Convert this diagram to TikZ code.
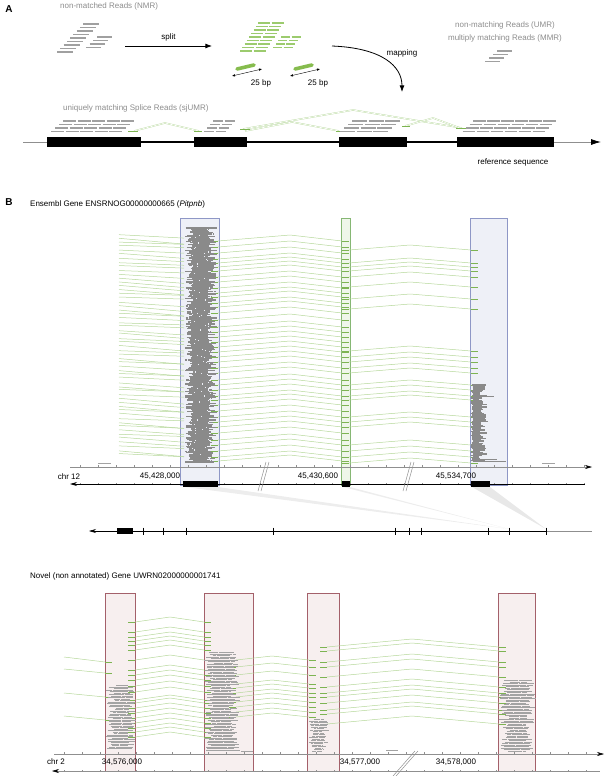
\documentclass[tikz,border=0pt]{standalone}
\usepackage{fontspec}
\setmainfont{Liberation Sans}
\usepackage{tikz}
\usetikzlibrary{positioning, arrows.meta}
\definecolor{readgrey}{HTML}{A0A0A0}
\definecolor{txtgrey}{HTML}{8C8C8C}
\definecolor{readgreen}{HTML}{9CCB6E}
\definecolor{pillgreen}{HTML}{86BC4E}
\definecolor{junc}{HTML}{B5D79A}
\definecolor{juncdark}{HTML}{7DB452}
\definecolor{pilegrey}{HTML}{8A8A8A}
\definecolor{pilelightgrey}{HTML}{A3A3A3}
\definecolor{bluefill}{HTML}{EEF0F7}
\definecolor{blueedge}{HTML}{8E97C6}
\definecolor{greenfill}{HTML}{EFF6EA}
\definecolor{greenedge}{HTML}{86B774}
\definecolor{pinkfill}{HTML}{F7EFEF}
\definecolor{pinkedge}{HTML}{A4606A}
\definecolor{axgrey}{HTML}{8F8F8F}
\tikzset{
  >=Latex, % arrow heads
  lbl/.style={font=\fontsize{8}{9.6}\selectfont, inner sep=0pt},
  greytxt/.style={lbl, text=txtgrey},
  panel/.style={font=\fontsize{10}{12}\selectfont\bfseries, inner sep=0pt},
  read/.style={draw=readgrey, line width=1.3pt},
  splitread/.style={draw=readgreen, line width=1.3pt},
  pill/.style={draw=pillgreen, line width=3.6pt, line cap=round},
  junction/.style={draw=junc, line width=0.5pt},
  juncpair/.style={draw=junc, double=white, double distance=0.7pt, line width=0.35pt},
  juncend/.style={draw=juncdark, line width=1pt},
  pile/.style={draw=pilegrey, line width=1.25pt},
  pilelight/.style={draw=pilelightgrey, line width=0.9pt},
  exon/.style={fill=black, draw=none},
  axisline/.style={draw=axgrey, line width=0.5pt},
  col blue/.style={fill=bluefill, draw=blueedge, line width=0.6pt},
  col green/.style={fill=greenfill, draw=greenedge, line width=0.6pt},
  col pink/.style={fill=pinkfill, draw=pinkedge, line width=0.6pt}
}
% stacks of short reads: [style] x y rows cols rowshift length
\newcommand{\readgrid}[7][read]{%
  \foreach \r in {1,...,#4}{%
    \foreach \c in {1,...,#5}{%
      \draw[#1] ({#2-(\r-1)*#6+(\c-1)*(#7+1.5)},{#3+(\r-1)*3.5}) -- ++(#7,0);
    }}}
% pile of mapped reads: [style] cx y0 rows step halfwidth extra
\newcommand{\pileup}[7][pile]{%
  \foreach \i in {1,...,#4}{%
    \pgfmathsetmacro\pyy{#3+#5*\i}%
    \pgfmathsetmacro\pcx{#2+3*rnd-1.5}%
    \pgfmathsetmacro\pwd{#6+#7*rnd}%
    \pgfmathsetmacro\pmid{\pcx+\pwd*(2*rnd-1)*0.7}%
    \draw[#1] ({\pcx-\pwd},\pyy) -- ({\pmid-0.4},\pyy) ({\pmid+0.4},\pyy) -- ({\pcx+\pwd},\pyy);
  }}
% spliced read: x1 x2 xpeak y rise
\newcommand{\hump}[5]{%
  \draw[junction] (#1,#4) -- (#3,{#4-#5}) -- (#2,#4);
  \draw[juncend] ({#1-7},#4) -- (#1,#4) (#2,#4) -- ({#2+7},#4);
}

\begin{document}
\begin{tikzpicture}[x=1pt, y=-1pt]
\useasboundingbox (0,0) rectangle (606,776);
\pgfmathsetseed{17}

%%% panel A
\node[panel] (pa) at (9,9) {A};
\node[greytxt, anchor=west] (nmr) at (60,6) {non-matched Reads (NMR)};
\node[greytxt] (umr) at (505,25) {non-matching Reads (UMR)};
\node[greytxt, below=6pt of umr] (mmr) {multiply matching Reads (MMR)};
\node[greytxt, anchor=west] (sjumr) at (63,108) {uniquely matching Splice Reads (sjUMR)};

% read stacks
\readgrid{83}{24}{9}{1}{3.25}{16}
\readgrid{97}{37}{4}{1}{3.7}{15}
\readgrid[splitread]{258}{23}{9}{2}{2.25}{12}
\readgrid[splitread]{281}{37}{4}{2}{2.6}{9}
\readgrid{497}{51}{4}{1}{4}{15}

% split and mapping arrows
\coordinate (nmr out) at (125,46);
\coordinate (split in) at (212,46);
\draw[->, line width=0.8pt] (nmr out) -- node[lbl, above=4pt] {split} (split in);
\coordinate (map out) at (332,46);
\coordinate (map in) at (402,92);
\draw[->, line width=0.8pt] (map out) .. controls (382,48) and (402,66) .. (map in);
\node[lbl] (maplbl) at (402,53) {mapping};

% 25 bp halves
\draw[pill] (237,69) -- (254,65);
\draw[pill] (295,69) -- (312,65);
\coordinate (bp1a) at (232,76);
\coordinate (bp1b) at (262,69);
\coordinate (bp2a) at (290,76);
\coordinate (bp2b) at (320,69);
\draw[{Latex[length=3pt,width=2.5pt]}-{Latex[length=3pt,width=2.5pt]}, line width=0.4pt] (bp1a) -- (bp1b);
\draw[{Latex[length=3pt,width=2.5pt]}-{Latex[length=3pt,width=2.5pt]}, line width=0.4pt] (bp2a) -- (bp2b);
\node[lbl] (bp1) at (261,83) {25 bp};
\node[lbl] (bp2) at (318,83) {25 bp};

% reference sequence
\draw[draw=axgrey, line width=0.8pt] (23,142) -- (47,142);
\draw[line width=1.8pt] (47,142) -- (554,142);
\draw[draw=axgrey, line width=0.8pt, -{Latex[length=10pt,width=6pt,color=black]}] (554,142) -- (601,142);
\fill[exon] (47,137) rectangle (141,147);
\fill[exon] (194,137) rectangle (247,147);
\fill[exon] (339,137) rectangle (407,147);
\fill[exon] (457,137) rectangle (554,147);
\node[lbl] (refseq) at (513,162) {reference sequence};

% splice reads
\draw[juncpair] (134,131) -- (165,123) -- (199,131);
\draw[juncpair] (243,129) -- (353,110) -- (462,128);
\draw[juncpair] (245,131) -- (292,122) -- (339,131);
\draw[juncpair] (405,126) -- (433,118) -- (460,128);
\draw[juncend] (128,131) -- (138,131) (194,131) -- (202,131) (240,129) -- (250,129)
  (336,131) -- (344,131) (402,126) -- (410,126) (456,128) -- (466,128);
\readgrid{63}{121}{4}{5}{4}{13}
\readgrid{213}{121}{4}{2}{3}{10}
\readgrid{352}{121}{4}{3}{4}{15}
\readgrid{473}{121}{4}{6}{3.5}{12.5}

%%% panel B
\node[panel] (pb) at (9,202) {B};
\node[lbl, anchor=west] (ensg) at (30,204) {Ensembl Gene ENSRNOG00000000665 (\textit{Pitpnb})};

% exon columns
\filldraw[col blue] (180,218) rectangle (219,485);
\filldraw[col green] (341,218) rectangle (350,485);
\filldraw[col blue] (470,218) rectangle (507,485);

% junctions
\foreach \i in {0,...,55}{
  \pgfmathsetmacro\ya{233+4*\i+2*rnd}
  \pgfmathsetmacro\yb{\ya+2+4*rnd}
  \draw[junction] (119,\ya) -- (184,\yb);
}
\foreach \y in {241,247,253,259,263,267,271,277,282,288,293,297,303,307,313,320,327,332,
  337,342,347,352,357,362,368,373,380,385,390,396,400,405,411,417,422,427,433,440,445,451,457,461}
  \hump{218}{342}{290}{\y}{6};
\foreach \y in {250,263,267,271,277,287,299,309,351,357,362,368,373,385,390,396,400,417,
  422,427,445,451,457,463}
  \hump{349}{471}{410}{\y}{5};

% pileups
\foreach \i in {0,...,195}{
  \pgfmathsetmacro\pyy{228+1.2*\i}
  \pgfmathsetmacro\xl{185+8*rnd}
  \pgfmathsetmacro\xr{207+10*rnd}
  \pgfmathsetmacro\pmid{\xl+(\xr-\xl)*rnd}
  \draw[pile] (\xl,\pyy) -- ({\pmid-0.3},\pyy) ({\pmid+0.3},\pyy) -- (\xr,\pyy);
}
\foreach \i in {0,...,59}{
  \pgfmathsetmacro\pyy{385+1.3*\i}
  \pgfmathsetmacro\xl{471+2*rnd}
  \pgfmathsetmacro\xr{479+9*rnd}
  \draw[pile] (\xl,\pyy) -- (\xr,\pyy);
}
\draw[pile, line width=0.7pt] (482,396) -- (494,396) (472,459) -- (497,459) (482,461.5) -- (506,461.5);
\draw[pilelight] (98,463) -- (111,463) (542,463) -- (555,463);

% coordinate axis and gene
\coordinate (axb l) at (70,467);
\coordinate (axb r) at (592,467);
\draw[axisline, -{Stealth[length=7pt,width=4pt,color=black]}] (axb l) -- (axb r);
\foreach \t in {80,98,...,585}
  \draw[axisline] (\t,467) -- (\t,465) (\t,484) -- (\t,482.5);
\coordinate (gnb l) at (70,484);
\coordinate (gnb r) at (585,484);
\draw[{Stealth[length=7pt,width=4pt]}-, line width=0.7pt] (gnb l) -- (gnb r);
\fill[exon] (183,481) rectangle (218,487);
\fill[exon] (342,481) rectangle (350,487);
\fill[exon] (471,481) rectangle (490,487);
\draw[axisline] (258,491) -- (266,462) (261,491) -- (269,462);
\draw[axisline] (403,491) -- (411,462) (406,491) -- (414,462);
\node[lbl] (chrb) at (69,477) {chr 12};
\node[lbl] (posb1) at (160,476) {45,428,000};
\node[lbl] (posb2) at (318,476) {45,430,600};
\node[lbl] (posb3) at (456,476) {45,534,700};

% zoom to transcript model
\fill[gray!14] (185,487) -- (218,487) -- (509,529) -- cycle;
\fill[gray!14] (343,487) -- (350,487) -- (509,529) -- cycle;
\fill[gray!18] (472,487) -- (490,487) -- (546,529) -- cycle;
\coordinate (tr l) at (89,531);
\coordinate (tr r) at (546,531);
\draw[{Stealth[length=7pt,width=4pt]}-, line width=0.6pt] (tr l) -- (tr r);
\draw[axisline] (546,531) -- (592,531);
\fill[exon] (117,528) rectangle (133,534);
\foreach \t in {143,163,186,273,395,409,421,488,509,546}
  \draw[line width=0.5pt] (\t,527.5) -- (\t,534.5);

%%% novel gene
\node[lbl, anchor=west] (novel) at (30,576) {Novel (non annotated) Gene UWRN02000000001741};

\filldraw[col pink] (105,593) rectangle (135,771);
\filldraw[col pink] (204,593) rectangle (253,771);
\filldraw[col pink] (307,593) rectangle (339,771);
\filldraw[col pink] (498,593) rectangle (535,771);

% junctions
\foreach \ya/\yb in {657/662,669/673,693/697,716/720}{
  \draw[junction] (64,\ya) -- (105,\yb);
  \draw[juncend] (105,\yb) -- (112,\yb);
}
\foreach \y in {622,632,637,641,645,650,660,670,675,680,686,692,700,703,708,713,718,723,728,732,737}
  \hump{135}{204}{170}{\y}{5};
\foreach \y in {660,667,675,684,688,693,697,702,707,712,717}
  \hump{236}{309}{272}{\y}{4};
\foreach \y in {647,651,662,667,677,687,693,697,703,710,714,724}
  \hump{327}{499}{412}{\y}{8};

% pileups
\pileup[pilelight]{121}{684}{43}{1.5}{6}{8}
\pileup[pilelight]{222}{651}{66}{1.5}{8}{9}
\pileup[pilelight]{318}{718}{22}{1.5}{4}{6}
\pileup[pilelight]{517}{679}{48}{1.5}{8}{10}
\draw[pilelight] (241,751) -- (253,751) (386,750) -- (398,750);

% coordinate axis
\coordinate (axc l) at (54,754);
\coordinate (axc r) at (604,754);
\draw[axisline, -{Stealth[length=7pt,width=4pt,color=black]}] (axc l) -- (axc r);
\foreach \t in {64,82,...,600}
  \draw[axisline] (\t,754) -- (\t,752) (\t,771) -- (\t,769.5);
\coordinate (gnc l) at (52,771);
\coordinate (gnc r) at (600,771);
\draw[{Stealth[length=7pt,width=4pt,color=black]}-, axisline] (gnc l) -- (gnc r);
\draw[axisline] (393,776) -- (415,751) (396,776) -- (418,751);
\node[lbl] (chrc) at (56,762) {chr 2};
\node[lbl] (posc1) at (122,762) {34,576,000};
\node[lbl] (posc2) at (360,762) {34,577,000};
\node[lbl] (posc3) at (456,762) {34,578,000};

\end{tikzpicture}
\end{document}
